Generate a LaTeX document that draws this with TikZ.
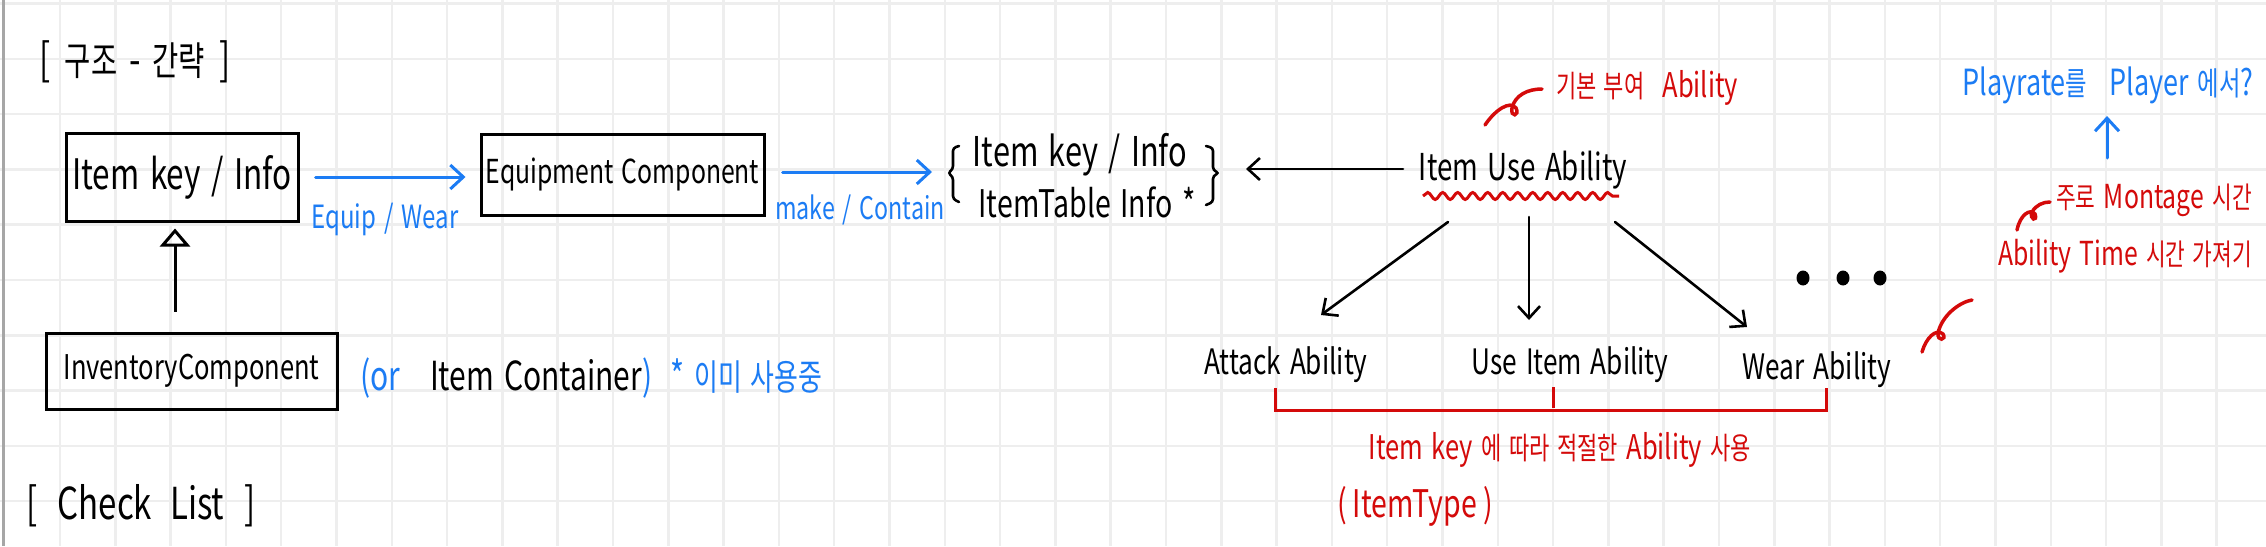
\documentclass[tikz,border=0pt]{standalone}
\usepackage{fontspec}
\setmainfont{Noto Sans CJK KR}[FakeStretch=0.75,WordSpace=1.5]
\newfontfamily\krf{Noto Sans CJK KR}[FakeStretch=0.72,Scale=0.9,WordSpace=1.5]
\usetikzlibrary{arrows.meta,calc,decorations.pathmorphing}
\definecolor{hblue}{RGB}{28,124,244}
\definecolor{hred}{RGB}{212,10,10}
\definecolor{gridc}{RGB}{238,238,238}
\newcommand\hsz[1]{\fontsize{#1pt}{#1pt}\selectfont}
\begin{document}
\begin{tikzpicture}[x=1pt,y=-1pt,
  txt/.style={inner sep=0pt, font=\hsz{#1}},
  box/.style={draw=black, line width=3pt, inner sep=0pt},
  barr/.style={draw=hblue, line width=3pt, line cap=round, -{Straight Barb[length=13pt,width=24pt]}},
  karr/.style={draw=black, line width=2.6pt, line cap=round, -{Straight Barb[length=12pt,width=22pt]}},
  tarr/.style={draw=black, line width=3pt, -{Triangle[open,length=18pt,width=30pt]}},
  rline/.style={draw=hred, line width=3pt},
  curl/.style={draw=hred, line width=3.5pt, line cap=round},
  gridline/.style={draw=gridc, line width=2.5pt},
]
\useasboundingbox (0,0) rectangle (2266,546);
\fill[white] (0,0) rectangle (2266,546);
% grid
\foreach \i in {1,...,40} \draw[gridline] ({4.7+55.3*\i},0) -- ({4.7+55.3*\i},546);
\foreach \j in {0,...,9} \draw[gridline] (0,{3.5+55.3*\j}) -- (2266,{3.5+55.3*\j});
\draw[black!35, line width=3pt] (3.5,0) -- (3.5,546);

% left part
\node[txt=44] (title) at (135,62) {[\hspace{14pt}{\krf 구조}\hspace{12pt}-\hspace{12pt}{\krf 간략}\hspace{14pt}]};
\node[box, minimum width=232pt, minimum height=88pt, font=\hsz{42}] (ik) at (182,177) {Item key / Info};
\node[box, minimum width=283pt, minimum height=81pt, font=\hsz{33}] (eq) at (622.5,174.5) {Equipment Component};
\node[box, minimum width=291pt, minimum height=76pt, font=\hsz{34}] (inv) at (191.5,371) {InventoryComponent};
\node[txt=32, text=hblue] (ew) at (385,219) {Equip / Wear};
\node[txt=31, text=hblue] (mc) at (860,210) {make / Contain};
\node[txt=40, anchor=west] (orr) at (360,378) {\textcolor{hblue}{(or}\hspace{30pt}Item Container\textcolor{hblue}{)\hspace{18pt}*\hspace{10pt}{\krf 이미 사용중}}};
\node[txt=44] (chk) at (141,506) {[\hspace{20pt}Check\hspace{18pt}List\hspace{20pt}]};

\draw[barr] ($(ik.east)+(16,0)$) -- ($(eq.west)+(-14,2.5)$);
\draw[tarr] ($(inv.north)+(-16.5,-20)$) -- ($(ik.south)+(-7,6)$);

% info group
\node[txt=41] (g1) at (1080,155) {Item key / Info};
\node[txt=38] (g2) at (1087,202) {ItemTable Info *};
\coordinate (bl) at (932,172);
\coordinate (br) at (1246,169);
\draw[black, line width=2.6pt, line cap=round, rounded corners=3pt] (959,146) -- (953,148) -- (953,169) -- (948,173) -- (953,177) -- (953,199) -- (959,202);
\draw[black, line width=2.6pt, line cap=round, rounded corners=3pt] (1206,146) -- (1213,148) -- (1213,170) -- (1219,173) -- (1213,176) -- (1213,202) -- (1206,205);
\draw[barr] ($(eq.east)+(17,-2.5)$) -- (bl);

% abilities
\node[txt=37] (iua) at (1523,170) {Item Use Ability};
\draw[karr] ($(iua.center)+(-120,-1)$) -- (br);
\draw[rline, decorate, decoration={snake, amplitude=3.5pt, segment length=15pt}] ($(iua.center)+(-100,26)$) -- ($(iua.center)+(96,26)$);
\node[txt=34, text=hred] (gb) at (1647,88) {{\krf 기본 부여}\hspace{18pt}Ability};
\draw[curl] (1485,125) .. controls (1495,110) and (1510,100) .. (1516,108) .. controls (1520,116) and (1510,118) .. (1512,108) .. controls (1515,95) and (1528,89) .. (1542,89);

\node[txt=35] (atk) at (1286,365) {Attack Ability};
\node[txt=35] (uia) at (1570,365) {Use Item Ability};
\node[txt=35] (wear) at (1817,370) {Wear Ability};
\draw[karr] ($(iua.center)+(-75,52)$) -- ($(atk.center)+(35,-50)$);
\draw[karr] ($(iua.center)+(6,47)$) -- ($(uia.center)+(-41,-45)$);
\draw[karr] ($(iua.center)+(92,52)$) -- ($(wear.center)+(-70,-43)$);
\fill (1803,278) ellipse [x radius=6.5pt, y radius=7.5pt];
\fill (1843,278) ellipse [x radius=6.5pt, y radius=7.5pt];
\fill (1880,278) ellipse [x radius=6.5pt, y radius=7.5pt];

\draw[rline] ($(atk.center)+(-11,23)$) |- ($(wear.center)+(9,40)$) -- ($(wear.center)+(9,18)$);
\draw[rline] ($(uia.center)+(-17,22)$) -- ($(uia.center)+(-17,43)$);
\node[txt=34, text=hred] (ik2) at (1560,450) {Item key {\krf 에 따라 적절한} Ability {\krf 사용}};
\node[txt=38, text=hred] (itype) at (1415,506) {(\hspace{6pt}ItemType\hspace{6pt})};
\draw[curl] (1922,352) .. controls (1926,338) and (1936,328) .. (1943,334) .. controls (1947,340) and (1937,342) .. (1938,333) .. controls (1942,315) and (1960,302) .. (1972,300);

% right notes
\node[txt=36, text=hblue] (pr) at (2108,85) {Playrate{\krf 를}\hspace{22pt}Player {\krf 에서}?};
\node[txt=33, text=hred] (mon) at (2154,200) {{\krf 주로} Montage {\krf 시간}};
\node[txt=33, text=hred] (abt) at (2125,256) {Ability Time {\krf 시간 가져기}};
\draw[barr] ($(mon.center)+(-47,-42)$) -- ($(pr.center)+(-1,31)$);
\draw[curl] (2017,230) .. controls (2020,215) and (2030,208) .. (2035,214) .. controls (2038,222) and (2029,220) .. (2032,212) .. controls (2036,205) and (2043,202) .. (2050,202);
\end{tikzpicture}
\end{document}
